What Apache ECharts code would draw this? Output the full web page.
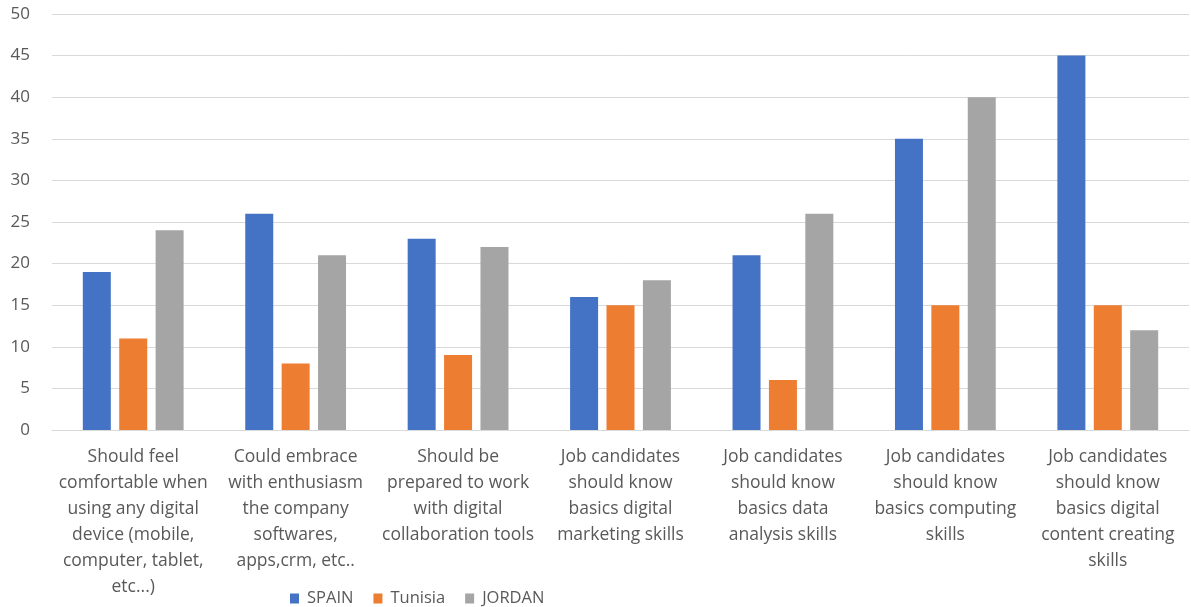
<!DOCTYPE html>
<html>
<head>
<meta charset="utf-8">
<script src="https://cdn.jsdelivr.net/npm/echarts@6/dist/echarts.min.js"></script>
<style>
  html, body { margin: 0; padding: 0; background: #fff; }
  #chart { width: 1191px; height: 607px; }
</style>
</head>
<body>
<div id="chart"></div>
<script>
// Survey statements (x-axis categories)
const categories = [
  'Should feel\ncomfortable when\nusing any digital\ndevice (mobile,\ncomputer, tablet,\netc...)',
  'Could embrace\nwith enthusiasm\nthe company\nsoftwares,\napps,crm, etc..',
  'Should be\nprepared to work\nwith digital\ncollaboration tools',
  'Job candidates\nshould know\nbasics digital\nmarketing skills',
  'Job candidates\nshould know\nbasics data\nanalysis skills',
  'Job candidates\nshould know\nbasics computing\nskills',
  'Job candidates\nshould know\nbasics digital\ncontent creating\nskills'
];

// Responses per country
const spain   = [19, 26, 23, 16, 21, 35, 45];
const tunisia = [11, 8, 9, 15, 6, 15, 15];
const jordan  = [24, 21, 22, 18, 26, 40, 12];

const textColor = '#595959';
const fontFamily = 'Open Sans, Liberation Sans, sans-serif';

const chart = echarts.init(document.getElementById('chart'));
chart.setOption({
  animation: false,
  textStyle: { fontFamily: fontFamily },
  grid: { left: 52, right: 2, top: 14, bottom: 177, containLabel: false },
  legend: {
    left: 285,
    top: 585,
    itemWidth: 9,
    itemHeight: 10,
    itemGap: 20,
    icon: 'rect',
    textStyle: { color: textColor, fontSize: 16.5, fontFamily: fontFamily, padding: [0, 0, 0, 3] },
    data: ['SPAIN', 'Tunisia', 'JORDAN']
  },
  xAxis: {
    type: 'category',
    data: categories,
    axisLine: { lineStyle: { color: '#d9d9d9', width: 1 } },
    axisTick: { show: false },
    axisLabel: {
      interval: 0,
      color: textColor,
      fontSize: 17.5,
      lineHeight: 26,
      margin: 14,
      align: 'center'
    }
  },
  yAxis: {
    type: 'value',
    min: 0,
    max: 50,
    interval: 5,
    axisLine: { show: false },
    axisTick: { show: false },
    splitLine: { lineStyle: { color: '#d9d9d9', width: 1 } },
    axisLabel: { color: textColor, fontSize: 17, margin: 22 }
  },
  series: [
    { name: 'SPAIN', type: 'bar', data: spain, barWidth: 28, barGap: '30%',
      itemStyle: { color: '#4472c4' } },
    { name: 'Tunisia', type: 'bar', data: tunisia, barWidth: 28, barGap: '30%',
      itemStyle: { color: '#ed7d31' } },
    { name: 'JORDAN', type: 'bar', data: jordan, barWidth: 28, barGap: '30%',
      itemStyle: { color: '#a5a5a5' } }
  ]
});
</script>
</body>
</html>
